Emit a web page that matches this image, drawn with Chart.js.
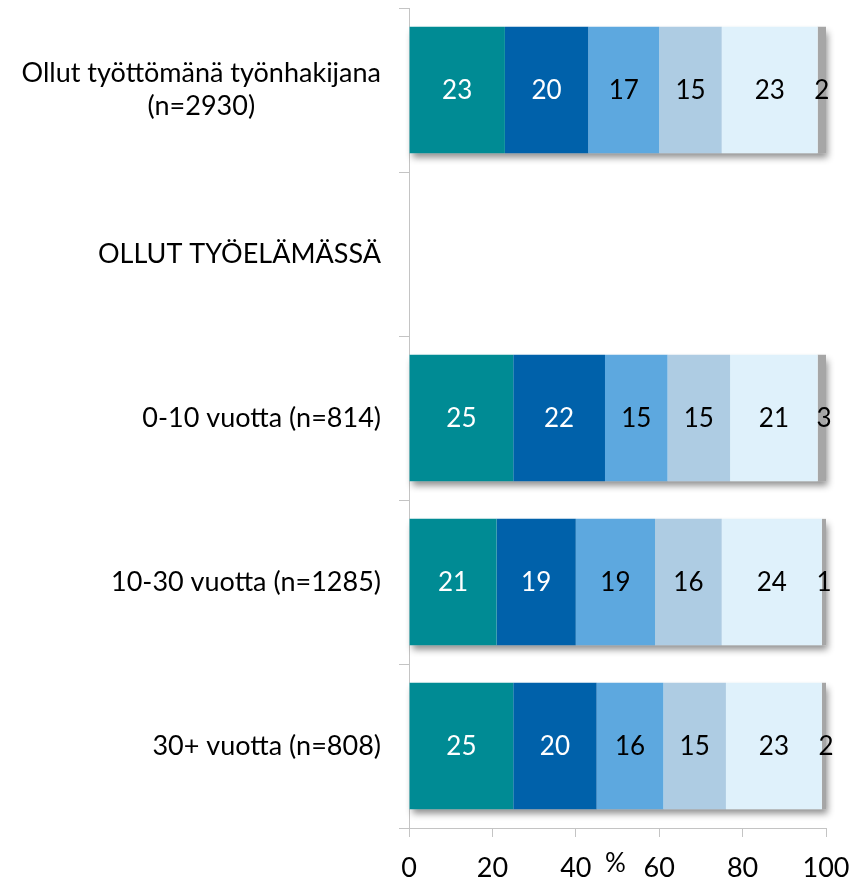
<!DOCTYPE html>
<html>
<head>
<meta charset="utf-8">
<script src="https://cdn.jsdelivr.net/npm/chart.js@4"></script>
<style>
    html, body { margin: 0; padding: 0; background: #fff; }
    #wrap { width: 853px; height: 884px; }
</style>
</head>
<body>
<div id="wrap"><canvas id="chart"></canvas></div>
<script>
const categories = [
    ["Ollut työttömänä työnhakijana", "(n=2930)"],
    "OLLUT TYÖELÄMÄSSÄ",
    "0-10 vuotta (n=814)",
    "10-30 vuotta (n=1285)",
    "30+ vuotta (n=808)",
];
const seriesA = [23, null, 25, 21, 25];
const seriesB = [20, null, 22, 19, 20];
const seriesC = [17, null, 15, 19, 16];
const seriesD = [15, null, 15, 16, 15];
const seriesE = [23, null, 21, 24, 23];
const seriesF = [2, null, 3, 1, 2];
const xTicks = [0, 20, 40, 60, 80, 100];
const axisTitle = "%";

const colors = ["#008B94", "#0061AA", "#5DA8DF", "#AECCE3", "#DFF1FB", "#A6A6A6"];
const labelColors = ["#fff", "#fff", "#000", "#000", "#000", "#000"];
const FONT = "Lato";

// one soft shadow under each whole stacked bar
const shadowPlugin = {
    id: "shadow",
    beforeDatasetsDraw(chart) {
        const c = chart.ctx;
        const n = chart.data.labels.length;
        c.save();
        c.shadowColor = "rgba(0,0,0,0.45)";
        c.shadowBlur = 7;
        c.shadowOffsetX = 2;
        c.shadowOffsetY = 5;
        c.fillStyle = "#fff";
        for (let j = 0; j < n; j++) {
            let x0 = Infinity, x1 = -Infinity, y = 0, h = 0;
            chart.data.datasets.forEach((ds, i) => {
                if (ds.data[j] == null) return;
                const bar = chart.getDatasetMeta(i).data[j];
                x0 = Math.min(x0, bar.base, bar.x);
                x1 = Math.max(x1, bar.base, bar.x);
                y = bar.y; h = bar.height;
            });
            if (x1 > x0) {
                x1 = Math.min(x1, chart.chartArea.right);
                c.fillRect(x0, y - h / 2, x1 - x0, h);
            }
        }
        c.restore();
    },
};

const textPlugin = {
    id: "texts",
    afterDraw(chart) {
        const c = chart.ctx;
        c.save();
        // value labels
        c.font = "26px " + FONT;
        c.textAlign = "center";
        c.textBaseline = "middle";
        chart.data.datasets.forEach((ds, i) => {
            chart.getDatasetMeta(i).data.forEach((bar, j) => {
                const v = ds.data[j];
                if (v == null) return;
                const cx = (bar.x + bar.base) / 2;
                c.fillStyle = labelColors[i];
                c.fillText(String(v), cx, bar.y + 1);
            });
        });
        // category labels
        const ys = chart.scales.y;
        c.font = "27px " + FONT;
        c.fillStyle = "#000";
        categories.forEach((lab, i) => {
            const lines = Array.isArray(lab) ? lab : [lab];
            const w = Math.max(...lines.map(l => c.measureText(l).width));
            const right = 381;
            const cx = right - w / 2;
            const lh = 33;
            const y0 = ys.getPixelForValue(i) - (lines.length - 1) * lh / 2;
            lines.forEach((l, k) => c.fillText(l, cx, y0 + k * lh));
        });
        // axis title
        const xs = chart.scales.x;
        c.font = "26px " + FONT;
        c.fillText(axisTitle, xs.getPixelForValue(50) - 2, 864);
        c.restore();
    },
};

const series = [seriesA, seriesB, seriesC, seriesD, seriesE, seriesF];

new Chart(document.getElementById("chart"), {
    type: "bar",
    data: {
        labels: categories,
        datasets: series.map((d, i) => ({
            label: "s" + i,
            data: d,
            backgroundColor: colors[i],
            borderWidth: 0,
            barPercentage: 0.77,
            categoryPercentage: 1,
        })),
    },
    options: {
        indexAxis: "y",
        responsive: true,
        maintainAspectRatio: false,
        animation: false,
        layout: { padding: { top: 8, right: 27, left: 0, bottom: 0 } },
        plugins: {
            legend: { display: false },
            tooltip: { enabled: false },
        },
        scales: {
            x: {
                stacked: true,
                min: 0,
                max: 100,
                afterBuildTicks: (s) => { s.ticks = xTicks.map(v => ({ value: v })); },
                afterFit: (s) => { s.height = 56; s.paddingLeft = 0; s.paddingRight = 0; },
                border: { color: "#c4c4c4", width: 1 },
                grid: { drawOnChartArea: false, drawTicks: true, tickLength: 9, color: "#c4c4c4" },
                ticks: { color: "#000", font: { family: FONT, size: 27 }, padding: 15, maxRotation: 0 },
            },
            y: {
                stacked: true,
                afterFit: (s) => { s.width = 409; },
                border: { color: "#c4c4c4", width: 1 },
                grid: { drawOnChartArea: false, drawTicks: true, tickLength: 10, offset: true, color: "#c4c4c4" },
                ticks: { display: false },
            },
        },
    },
    plugins: [shadowPlugin, textPlugin],
});
</script>
</body>
</html>
